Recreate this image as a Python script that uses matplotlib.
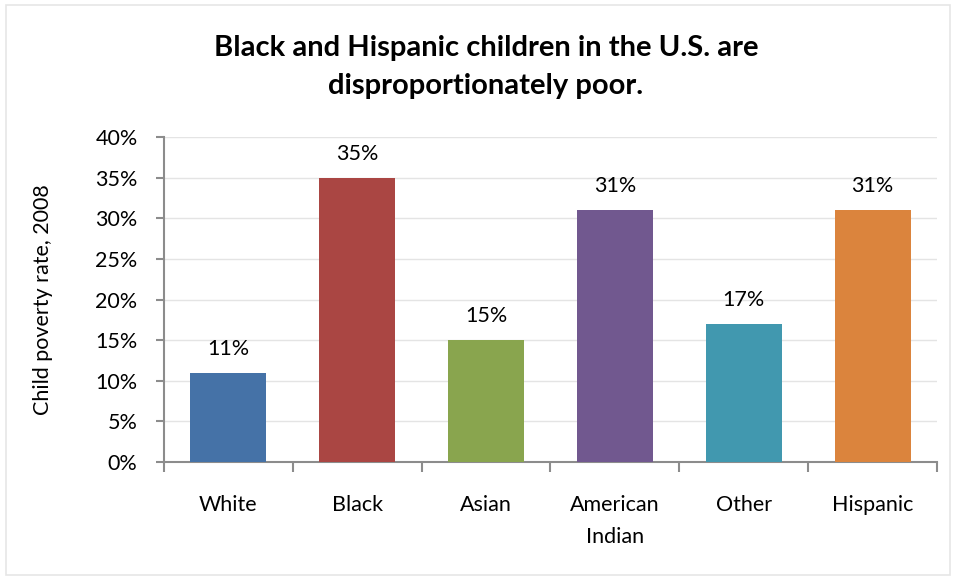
import matplotlib.pyplot as plt
from matplotlib.patches import Rectangle
from matplotlib.ticker import FuncFormatter, FixedLocator, NullFormatter

categories = ["White", "Black", "Asian", "American\nIndian", "Other", "Hispanic"]
rates = [11, 35, 15, 31, 17, 31]
colors = ["#4572A7", "#AA4643", "#89A54E", "#71588F", "#4198AF", "#DB843D"]

plt.rcParams['font.family'] = ['Lato', 'DejaVu Sans']

fig = plt.figure(figsize=(9.56, 5.78), dpi=100)
fig.patches.append(Rectangle((6/956, 3/578), 944/956, 570/578, transform=fig.transFigure,
                             fill=False, edgecolor="#E6E6E6", linewidth=1.2))
ax = fig.add_axes([164/956, 1 - 462/578, (937 - 164)/956, (462 - 137)/578])

x = range(len(categories))
bars = ax.bar(x, rates, width=0.59, color=colors, zorder=3)
for xi, v in zip(x, rates):
    ax.annotate(f"{v}%", (xi, v), xytext=(0, 10), textcoords="offset points",
                ha="center", va="bottom", fontsize=15.5)

ax.set_xlim(-0.5, len(categories) - 0.5)
ax.set_ylim(0, 40)
ax.set_yticks(range(0, 41, 5))
ax.yaxis.set_major_formatter(FuncFormatter(lambda v, p: f"{int(v)}%"))
ax.grid(axis="y", color="#E4E4E4", linewidth=1, zorder=0)

ax.xaxis.set_major_locator(FixedLocator([i - 0.5 for i in range(len(categories) + 1)]))
ax.xaxis.set_major_formatter(NullFormatter())
ax.xaxis.set_minor_locator(FixedLocator(list(x)))
ax.set_xticklabels(categories, minor=True, linespacing=1.7)
ax.tick_params(axis="x", which="minor", length=0, pad=24, labelsize=15.5)
ax.tick_params(axis="x", which="major", length=7, width=1.5, color="#8C8C8C")
ax.tick_params(axis="y", length=6, width=1.5, color="#8C8C8C", labelsize=15.5, pad=13)

for s in ["top", "right"]:
    ax.spines[s].set_visible(False)
for s in ["left", "bottom"]:
    ax.spines[s].set_color("#8C8C8C")
    ax.spines[s].set_linewidth(1.5)

ax.set_ylabel("Child poverty rate, 2008", fontsize=15.5)
ax.yaxis.set_label_coords(-0.143, 0.5)
fig.text(486/956, 1 - 67/578, "Black and Hispanic children in the U.S. are\ndisproportionately poor.",
         ha="center", va="center", fontsize=21, fontweight="bold", linespacing=1.55)

fig.savefig("out.png", dpi=100)
